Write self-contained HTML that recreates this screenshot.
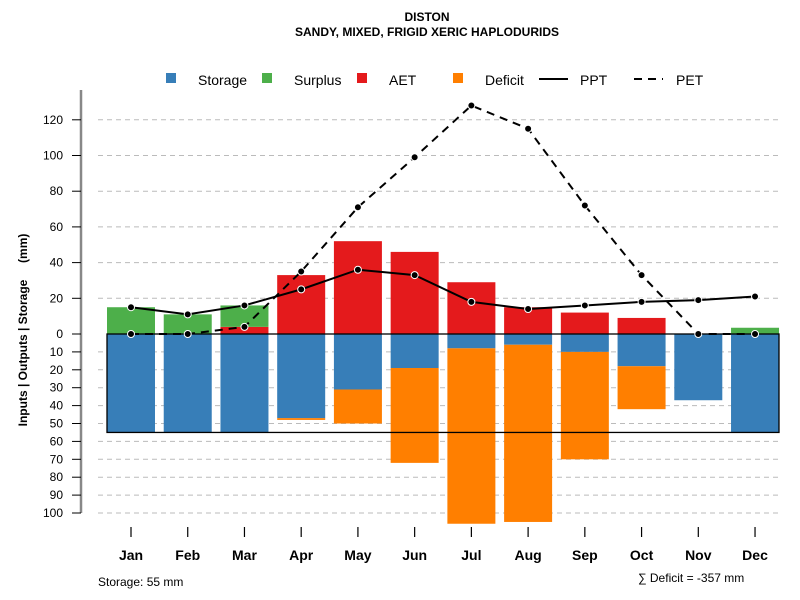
<!DOCTYPE html>
<html><head><meta charset="utf-8"><style>
body{margin:0;background:#fff}
svg{display:block;font-family:"Liberation Sans",sans-serif}
</style></head><body>
<svg id="c" width="800" height="600" xmlns="http://www.w3.org/2000/svg">
<text x="427" y="21" font-size="12" font-weight="bold" text-anchor="middle">DISTON</text>
<text x="427" y="36" font-size="12" font-weight="bold" text-anchor="middle">SANDY, MIXED, FRIGID XERIC HAPLODURIDS</text>
<text transform="translate(27,330) rotate(-90)" font-size="12" font-weight="bold" text-anchor="middle" style="white-space:pre">Inputs | Outputs | Storage     (mm)</text>
<text x="98" y="586" font-size="12">Storage: 55 mm</text>
<text x="638" y="582" font-size="12">∑ Deficit = -357 mm</text>
<g id="grid"></g><g id="bars"></g><g id="lines"></g><g id="axes"></g><g id="legend"></g>
</svg>
<script>
const months=["Jan","Feb","Mar","Apr","May","Jun","Jul","Aug","Sep","Oct","Nov","Dec"];
const storage=[55,55,55,47,31,19,8,6,10,18,37,55];
const deficit=[0,0,0,1,19,53,98,99,60,24,0,0];
const aet=[0,0,4,33,52,46,29,15,12,9,0,0];
const surplus=[15,11,12,0,0,0,0,0,0,0,0,3.5];
const ppt=[15,11,16,25,36,33,18,14,16,18,19,21];
const pet=[0,0,4,35,71,99,128,115,72,33,0,0];
const upTicks=[0,20,40,60,80,100,120];
const lowTicks=[10,20,30,40,50,60,70,80,90,100];
const NS="http://www.w3.org/2000/svg";
const y0=334;
const yU=v=>y0-v*1.785;
const yL=v=>y0+v*1.79;
const xM=i=>131+i*56.73;
const bw=48;
function mk(p,t,a){const e=document.createElementNS(NS,t);for(const k in a)e.setAttribute(k,a[k]);document.getElementById(p).appendChild(e);return e;}
upTicks.forEach(t=>{if(t===0)return;
 const l=mk('grid','line',{x1:98,x2:779,y1:yU(t),y2:yU(t),stroke:'#bbb','stroke-dasharray':'5,4'});
 
 });
lowTicks.forEach(t=>{
 const l=mk('grid','line',{x1:98,x2:779,y1:yL(t),y2:yL(t),stroke:'#bbb','stroke-dasharray':'5,4'});
 
 });
months.forEach((m,i)=>{
 const x=xM(i)-bw/2;
 if(storage[i]>0){const r=mk('bars','rect',{x:x,y:y0,width:bw,height:yL(storage[i])-y0,fill:'#377eb8'});
  
  }
 if(deficit[i]>0){const r=mk('bars','rect',{x:x,y:yL(storage[i]),width:bw,height:yL(storage[i]+deficit[i])-yL(storage[i]),fill:'#ff7f00'});
  
  }
 if(aet[i]>0){const r=mk('bars','rect',{x:x,y:yU(aet[i]),width:bw,height:y0-yU(aet[i]),fill:'#e41a1c'});
  
  }
 if(surplus[i]>0){const r=mk('bars','rect',{x:x,y:yU(aet[i]+surplus[i]),width:bw,height:yU(aet[i])-yU(aet[i]+surplus[i]),fill:'#4daf4a'});
  
  }
});
const box=mk('bars','rect',{x:107,y:y0,width:672,height:yL(55)-y0,fill:'none',stroke:'#000','stroke-width':1.3});


function series(vals,dash,name){
 const p=mk('lines','polyline',{points:vals.map((v,i)=>xM(i)+','+yU(v)).join(' '),fill:'none',stroke:'#000','stroke-width':2,'stroke-dasharray':dash});
 
 
 vals.forEach((v,i)=>{const c=mk('lines','circle',{cx:xM(i),cy:yU(v),r:3.5,fill:'#000',stroke:'#fff','stroke-width':1});
  
  });
}
series(pet,'8,6','pet');
series(ppt,'none','ppt');
const ax=mk('axes','line',{x1:81,x2:81,y1:90,y2:513,stroke:'#888','stroke-width':2.5});


upTicks.forEach(t=>{
 mk('axes','line',{x1:72,x2:81,y1:yU(t),y2:yU(t),stroke:'#000'});
 const tx=mk('axes','text',{x:63,y:yU(t)+4,'font-size':12,'text-anchor':'end'});tx.textContent=t;
 
 });
lowTicks.forEach(t=>{
 mk('axes','line',{x1:72,x2:81,y1:yL(t),y2:yL(t),stroke:'#000'});
 const tx=mk('axes','text',{x:63,y:yL(t)+4,'font-size':12,'text-anchor':'end'});tx.textContent=t;
 
 });
months.forEach((m,i)=>{
 mk('axes','line',{x1:xM(i),x2:xM(i),y1:527,y2:537,stroke:'#000','stroke-width':1.2});
 const tx=mk('axes','text',{x:xM(i),y:560,'font-size':14,'font-weight':'bold','text-anchor':'middle'});tx.textContent=m;
 
 });
const leg=[["Storage","#377eb8",166,198],["Surplus","#4daf4a",262,294],["AET","#e41a1c",357,389],["Deficit","#ff7f00",453,485]];
leg.forEach(([n,c,x,tx])=>{
 const r=mk('legend','rect',{x:x,y:73,width:10,height:10,fill:c});
 
 
 const t=mk('legend','text',{x:tx,y:85,'font-size':14});t.textContent=n;
 
 });
mk('legend','line',{x1:539,x2:568,y1:79,y2:79,stroke:'#000','stroke-width':2});
const t1=mk('legend','text',{x:580,y:85,'font-size':14});t1.textContent='PPT';


mk('legend','line',{x1:634,x2:663,y1:79,y2:79,stroke:'#000','stroke-width':2,'stroke-dasharray':'8,6'});
const t2=mk('legend','text',{x:676,y:85,'font-size':14});t2.textContent='PET';


</script>
</body></html>
